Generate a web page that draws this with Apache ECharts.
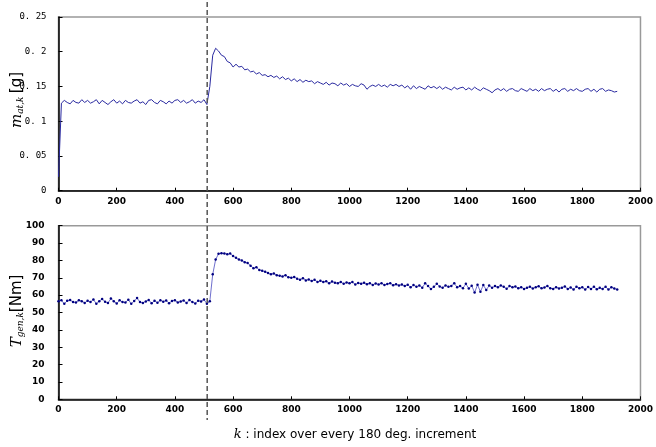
<!DOCTYPE html>
<html><head><meta charset="utf-8">
<script src="https://cdn.jsdelivr.net/npm/echarts@6/dist/echarts.min.js"></script>
<style>html,body{margin:0;padding:0;background:#fff}#c{width:656px;height:447px}</style>
</head><body><div id="c"></div>
<script>
// k index step between samples (both series sampled every 10 increments, k = 0..1920)
const kStep = 10;
const mAir = [
0.020,
0.126,0.130,0.127,0.125,0.130,0.127,0.126,0.131,0.127,0.130,
0.126,0.128,0.131,0.125,0.130,0.127,0.124,0.128,0.131,0.126,
0.129,0.125,0.130,0.127,0.126,0.129,0.131,0.126,0.128,0.124,
0.130,0.131,0.127,0.125,0.130,0.128,0.125,0.129,0.126,0.130,
0.131,0.127,0.130,0.126,0.128,0.131,0.126,0.129,0.127,0.131,
0.124,0.150,0.195,0.205,0.201,0.195,0.193,0.186,0.184,0.178,
0.182,0.178,0.179,0.174,0.175,0.171,0.172,0.168,0.170,0.166,
0.167,0.164,0.166,0.163,0.165,0.161,0.164,0.160,0.162,0.158,
0.161,0.157,0.160,0.156,0.159,0.157,0.158,0.154,0.157,0.155,
0.153,0.156,0.152,0.155,0.154,0.151,0.155,0.152,0.154,0.150,
0.153,0.151,0.150,0.154,0.152,0.146,0.150,0.152,0.150,0.153,
0.150,0.152,0.149,0.153,0.151,0.153,0.150,0.152,0.148,0.151,
0.146,0.151,0.147,0.150,0.148,0.146,0.151,0.148,0.150,0.147,
0.150,0.146,0.149,0.147,0.145,0.149,0.146,0.148,0.149,0.145,
0.148,0.145,0.149,0.146,0.144,0.148,0.146,0.144,0.141,0.145,
0.147,0.144,0.147,0.143,0.146,0.147,0.144,0.143,0.147,0.145,
0.143,0.147,0.144,0.146,0.143,0.147,0.144,0.146,0.147,0.143,
0.146,0.142,0.146,0.147,0.143,0.146,0.144,0.147,0.144,0.143,
0.146,0.147,0.143,0.146,0.142,0.146,0.147,0.143,0.145,0.144,
0.142,0.143
];
const tGen = [
56.5,57,55,56.8,57.2,56,55.8,57,56.5,55.5,
56.8,56,57.5,55,56.5,57.8,56.2,55.5,58,56.5,
55.2,57,56,55.8,57.4,55,56.6,58.3,56,55.5,
56.4,57.2,55.3,56.8,55.6,57,56.2,56.9,55.4,56.6,
57,55.8,56.3,56.9,55.5,57.2,56,55.2,56.8,56.4,
57.5,
55,56.5,72,80.5,83.8,84.2,84,83.5,84,82.5,
81.5,80.5,80,79,78.5,77,75.5,76,74.5,74,
73.5,72.8,72,72.5,71.5,71.2,70.8,71.5,70.3,70,
70.5,69.5,68.8,69.8,68.5,69,68.2,68.8,67.6,68.3,
67.5,68,66.8,67.8,67.2,66.9,67.6,66.5,67.3,66.8,
67.5,66.2,67,66.5,67.2,66.3,66.9,65.8,66.7,66.2,
66.8,65.9,66.4,66.9,65.7,66.3,65.5,66.1,65.2,66,
64.5,65.8,64.8,65.5,64.3,66.8,65.2,63.5,64.8,66.5,
65,64.2,65.6,64.8,65.3,66.8,64.5,65.2,64,66.5,
63.8,65.4,61.5,66,62,65.8,63,65.5,64.2,65.3,
64.5,65.6,64.8,63.7,65.2,64.5,65,63.9,64.6,63.6,
64.2,64.9,63.8,64.5,65.1,63.9,64.4,65.3,64,63.5,
64.6,63.8,64.3,65,63.6,64.4,63.3,64.8,64,64.5,
63.2,64.7,63.5,64.9,63.4,64.2,63.6,64.8,63.3,64.5,
63.8,63.2
];
const xTicks = [0,200,400,600,800,1000,1200,1400,1600,1800,2000];
const mTicks = ['0','0. 05','0. 1','0. 15','0. 2','0. 25'];
const eventK = 511;

const mData = mAir.map((v,i)=>[i*kStep, v]);
const tData = tGen.map((v,i)=>[i*kStep, v]);

const chart = echarts.init(document.getElementById('c'), null, {renderer:'canvas'});
const lblFont = {fontFamily:'DejaVu Sans', fontWeight:'bold', fontSize:9, color:'#000'};
function xAx(idx){
  return {type:'value', gridIndex:idx, min:0, max:2000, interval:200,
    axisLine:{lineStyle:{color:'#000', width:1.5}},
    axisTick:{inside:true, length:3, lineStyle:{color:'#000'}},
    splitLine:{show:false},
    axisLabel:Object.assign({margin:6, formatter:(v)=>String(xTicks[Math.round(v/200)])}, lblFont)};
}
chart.setOption({
  animation:false,
  grid:[
    {left:58.5, right:12.5, top:17, height:173.7, show:true, borderColor:'#999', borderWidth:1.5},
    {left:58.5, right:12.5, top:225.7, height:173.6, show:true, borderColor:'#999', borderWidth:1.5}
  ],
  xAxis:[xAx(0), xAx(1)],
  yAxis:[
    {type:'value', gridIndex:0, min:0, max:0.25, interval:0.05,
     axisLine:{show:true, lineStyle:{color:'#000', width:1.5}},
     axisTick:{show:true, inside:true, length:4, lineStyle:{color:'#000'}},
     splitLine:{show:false},
     axisLabel:Object.assign({margin:12, formatter:(v)=>mTicks[Math.round(v/0.05)]}, lblFont, {fontWeight:'normal', fontFamily:'DejaVu Sans Mono'})},
    {type:'value', gridIndex:1, min:0, max:100, interval:10,
     axisLine:{show:true, lineStyle:{color:'#000', width:1.5}},
     axisTick:{show:true, inside:true, length:4, lineStyle:{color:'#000'}},
     splitLine:{show:false},
     axisLabel:Object.assign({margin:14}, lblFont)}
  ],
  series:[
    {type:'line', xAxisIndex:0, yAxisIndex:0, data:mData, showSymbol:false, symbol:'none',
     lineStyle:{color:'#2a2aa0', width:1}},
    {type:'line', xAxisIndex:1, yAxisIndex:1, data:tData, symbol:'circle', symbolSize:2.5, showSymbol:true,
     itemStyle:{color:'#000080'}, lineStyle:{color:'#4a4ac0', width:0.8}}
  ]
});
const xPix = chart.convertToPixel({xAxisIndex:0}, eventK);
chart.setOption({
  graphic:[
    {type:'line', shape:{x1:xPix, y1:2, x2:xPix, y2:420}, z:100,
     style:{stroke:'#555', lineWidth:1.5, lineDash:[5,3]}},
    {type:'text', x:17, y:100, rotation:Math.PI/2, z:100,
     style:{text:'{i|m}{s|at,k} {n|[g]}', align:'center', verticalAlign:'middle',
       rich:{i:{fontFamily:'DejaVu Serif', fontStyle:'italic', fontSize:15, fill:'#000'},
             s:{fontFamily:'DejaVu Serif', fontStyle:'italic', fontSize:9, fill:'#000', padding:[8,0,0,0]},
             n:{fontFamily:'DejaVu Sans', fontSize:15, fill:'#000'}}}},
    {type:'text', x:17, y:311, rotation:Math.PI/2, z:100,
     style:{text:'{i|T}{s|gen,k}{n|[Nm]}', align:'center', verticalAlign:'middle',
       rich:{i:{fontFamily:'DejaVu Serif', fontStyle:'italic', fontSize:15, fill:'#000'},
             s:{fontFamily:'DejaVu Serif', fontStyle:'italic', fontSize:9, fill:'#000', padding:[8,0,0,0]},
             n:{fontFamily:'DejaVu Sans', fontSize:15, fill:'#000'}}}},
    {type:'text', x:355, y:435, z:100,
     style:{text:'{i|k} : index over every 180 deg. increment', align:'center', verticalAlign:'middle',
       fontFamily:'DejaVu Sans', fontSize:12, fill:'#000',
       rich:{i:{fontFamily:'DejaVu Serif', fontStyle:'italic', fontSize:13, fill:'#000'}}}}
  ]
});
</script></body></html>
